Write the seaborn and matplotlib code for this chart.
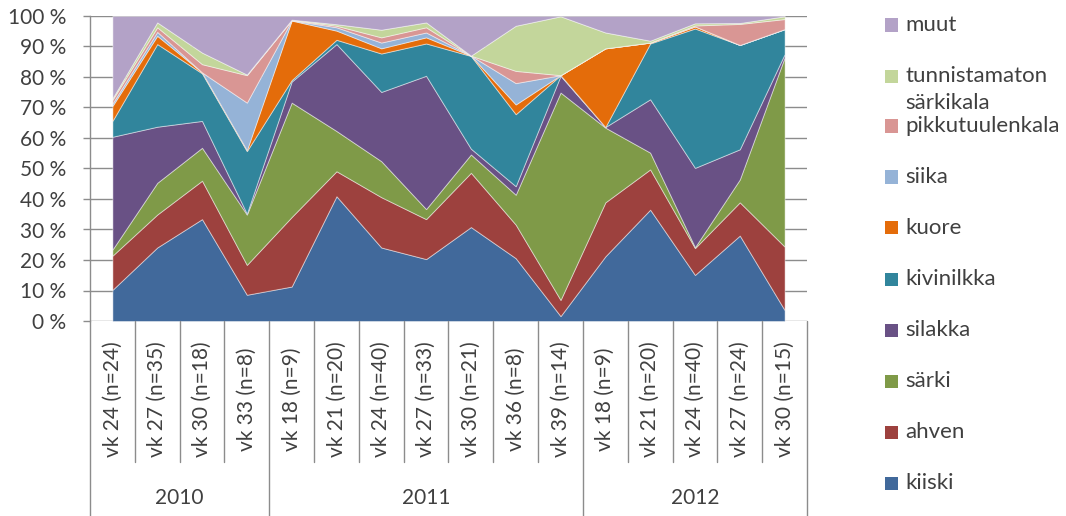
import matplotlib
matplotlib.use("Agg")
import matplotlib.pyplot as plt
from matplotlib.patches import Rectangle
import numpy as np
import pandas as pd
import seaborn as sns

# sampling weeks and years
weeks = ["vk 24 (n=24)", "vk 27 (n=35)", "vk 30 (n=18)", "vk 33 (n=8)",
         "vk 18 (n=9)", "vk 21 (n=20)", "vk 24 (n=40)", "vk 27 (n=33)",
         "vk 30 (n=21)", "vk 36 (n=8)", "vk 39 (n=14)",
         "vk 18 (n=9)", "vk 21 (n=20)", "vk 24 (n=40)", "vk 27 (n=24)", "vk 30 (n=15)"]
years = ["2010", "2011", "2012"]
year_sizes = [4, 7, 5]

# share of each species (%)
kiiski = [10.2, 24.1, 33.4, 8.6, 11.3, 40.9, 24.1, 20.3, 30.8, 20.6, 1.6, 21.2, 36.5, 15.1, 28.0, 3.6]
ahven = [11.2, 10.8, 12.6, 9.8, 22.8, 8.2, 16.5, 13.1, 17.8, 11.0, 5.3, 17.7, 13.2, 8.8, 10.9, 20.8]
sarki = [2.0, 10.4, 10.8, 16.5, 37.5, 13.2, 11.8, 3.3, 6.0, 9.8, 68.0, 24.5, 5.5, 0.3, 7.5, 62.0]
silakka = [37.0, 18.4, 8.8, 0.3, 6.9, 28.5, 22.7, 43.7, 1.9, 2.8, 5.5, 0.2, 17.5, 26.0, 9.9, 1.1]
kivinilkka = [5.2, 27.1, 15.6, 20.5, 0.5, 1.4, 12.6, 10.6, 30.4, 23.6, 0.2, 0.0, 18.3, 45.7, 34.2, 8.2]
kuore = [4.9, 2.7, 0.3, 0.3, 19.5, 3.0, 1.7, 2.0, 0.1, 3.2, 0.0, 25.8, 0.3, 0.7, 0.0, 0.0]
siika = [0.8, 1.3, 0.0, 15.6, 0.1, 1.1, 1.9, 1.6, 0.0, 7.0, 0.0, 0.0, 0.0, 0.0, 0.0, 0.0]
pikkutuulenkala = [1.2, 1.5, 2.7, 9.0, 0.1, 0.5, 1.7, 1.7, 0.0, 4.0, 0.0, 0.0, 0.0, 0.3, 6.9, 3.3]
tunnistamaton = [0.5, 1.6, 3.8, 0.2, 0.1, 0.5, 2.5, 1.6, 0.0, 14.8, 19.3, 5.2, 0.6, 0.7, 0.3, 0.9]
muut = [27.0, 2.1, 12.0, 19.2, 1.2, 2.7, 4.5, 2.1, 13.0, 3.2, 0.1, 5.4, 8.1, 2.4, 2.3, 0.1]

species = ["kiiski", "ahven", "särki", "silakka", "kivinilkka", "kuore", "siika",
           "pikkutuulenkala", "tunnistamaton\nsärkikala", "muut"]
colors = ["#41699b", "#9d413e", "#7f9a48", "#695185", "#31859c", "#e46c0a",
          "#95b3d7", "#d99694", "#c3d69b", "#b3a2c7"]

sns.set_theme(style="white")
plt.rcParams["font.family"] = ["Lato", "DejaVu Sans"]

df = pd.DataFrame({
    "kiiski": kiiski, "ahven": ahven, "särki": sarki, "silakka": silakka,
    "kivinilkka": kivinilkka, "kuore": kuore, "siika": siika,
    "pikkutuulenkala": pikkutuulenkala, "tunnistamaton\nsärkikala": tunnistamaton,
    "muut": muut})
share = df.div(df.sum(axis=1), axis=0) * 100

W, H = 1066, 516
fig = plt.figure(figsize=(W / 100, H / 100), dpi=100)
ax = fig.add_axes([90 / W, 1 - 321 / H, (807 - 90) / W, 305 / H])

x = np.arange(len(weeks))
ax.stackplot(x, [share[s].values for s in species], colors=colors,
             edgecolor=(1, 1, 1, 0.45), linewidth=0.7, zorder=2)

ax.set_xlim(-0.5, len(weeks) - 0.5)
ax.set_ylim(0, 100)
ax.set_yticks(range(0, 101, 10))
ax.set_yticklabels([f"{v} %" for v in range(0, 101, 10)])
ax.set_xticks([])
ax.yaxis.grid(True, color="#8c8c8c", linewidth=1)
ax.set_axisbelow(True)
for side in ["top", "right", "bottom"]:
    ax.spines[side].set_visible(False)
ax.spines["left"].set_color("#8c8c8c")
ax.spines["left"].set_linewidth(1)
ax.tick_params(axis="y", left=True, length=5, width=1, color="#8c8c8c",
               pad=12, labelsize=15, labelcolor="#404040")

# two-level category labels below the plot
tr = ax.get_xaxis_transform()
def fy(px):
    return (321 - px) / 305

line_kw = dict(color="#8c8c8c", lw=1, transform=tr, clip_on=False)
bounds = np.cumsum([0] + year_sizes) - 0.5
for k in range(len(weeks) + 1):
    edge = k - 0.5
    bottom = fy(516) if edge in bounds else fy(462)
    ax.plot([edge, edge], [0, bottom], **line_kw)

for i, w in enumerate(weeks):
    ax.text(i, fy(399), w, rotation=90, ha="center", va="center",
            fontsize=15, color="#404040", transform=tr)

for yr, lo, hi in zip(years, bounds[:-1], bounds[1:]):
    ax.text((lo + hi) / 2, fy(498), yr, ha="center", va="center",
            fontsize=15, color="#404040", transform=tr)

# legend drawn to the right, top item first
leg_y = [25, 76, 126, 177, 228, 279, 330, 381, 432, 483]
for s, c, yp in zip(species[::-1], colors[::-1], leg_y):
    fig.patches.append(Rectangle((885 / W, 1 - (yp + 6.5) / H), 13 / W, 13 / H,
                                 facecolor=c, edgecolor="none",
                                 transform=fig.transFigure))
    lines = s.split("\n")
    for j, t in enumerate(lines):
        fig.text(905 / W, 1 - (yp + 27 * j) / H, t, ha="left", va="center",
                 fontsize=16, color="#404040")

fig.savefig("out.png", dpi=100)
